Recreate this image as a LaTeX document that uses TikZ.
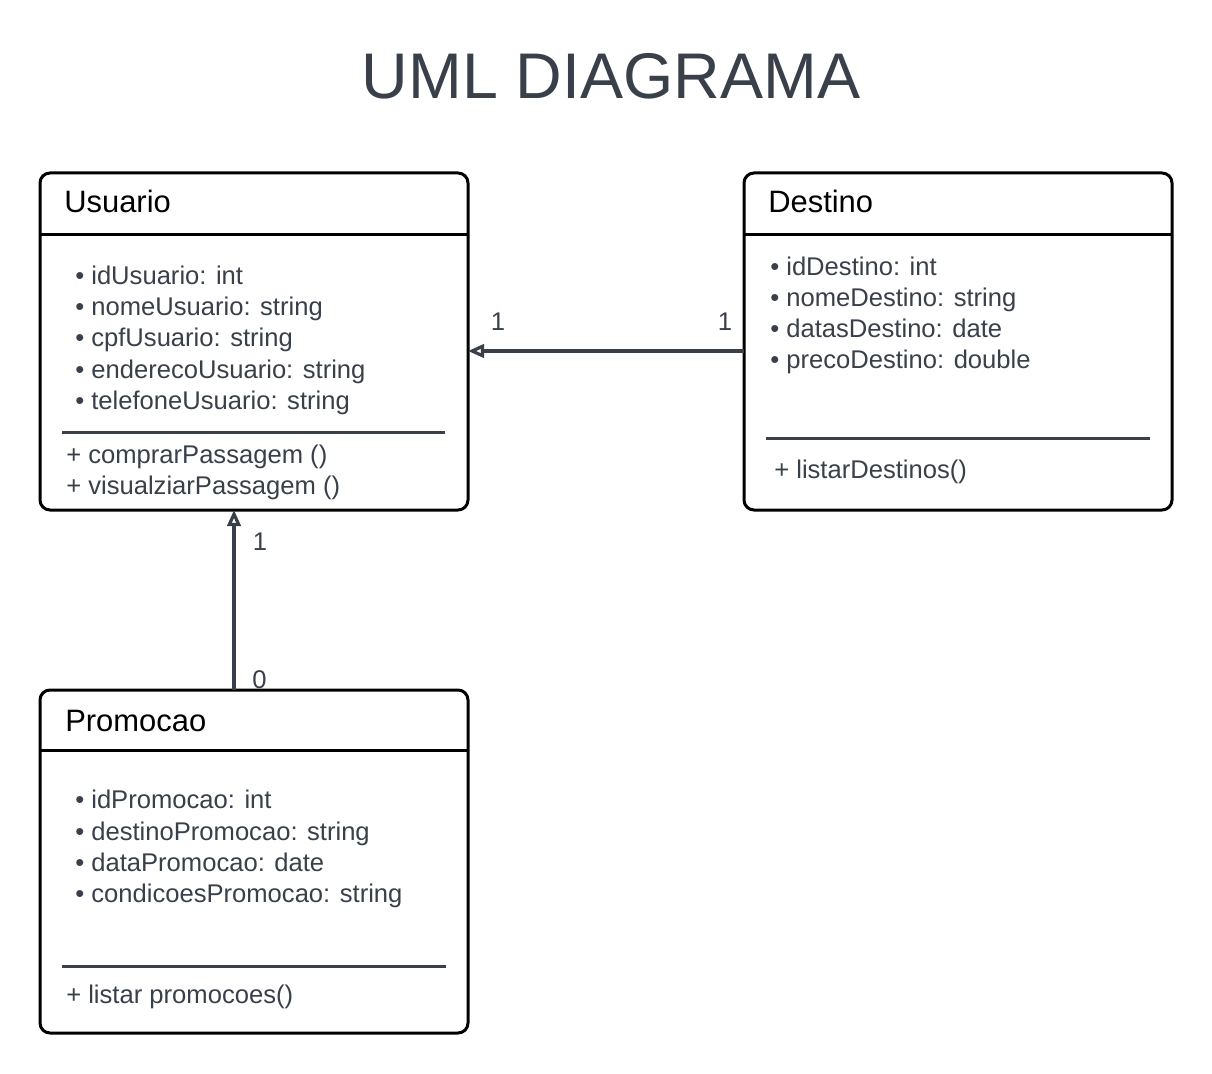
\documentclass[tikz,border=0pt]{standalone}
\usepackage{fontspec}
\setmainfont{Liberation Sans}
\usetikzlibrary{arrows.meta}
\definecolor{ink}{HTML}{3A404A}
\begin{document}
\begin{tikzpicture}[x=0.75pt,y=-0.75pt,
  classbox/.style={draw=black, line width=2.25pt, rounded corners=7.5pt, anchor=north west, inner sep=0pt, outer sep=0pt, minimum width=321pt},
  hdrline/.style={draw=black, line width=2.25pt},
  sepline/.style={draw=ink, line width=2.25pt},
  classname/.style={font=\fontsize{23.2}{28}\selectfont, text=black, anchor=base west, inner sep=0pt},
  member/.style={font=\fontsize{19.2}{23}\selectfont, text=ink, anchor=base west, inner sep=0pt},
  mult/.style={font=\fontsize{19.2}{23}\selectfont, text=ink, inner sep=0pt},
  assoc/.style={draw=ink, line width=2.4pt, -{Triangle[open, length=12pt, width=10pt]}}]
\useasboundingbox[fill=white] (0,0) rectangle (1212,1073);

% title
\node[font=\fontsize{48.4}{58}\selectfont, text=ink, inner sep=0pt] (title) at (611,76) {UML DIAGRAMA};

% class boxes
\node[classbox, minimum height=252.75pt] (usuario) at (40,173) {};
\node[classbox, minimum height=252.75pt] (destino) at (744,173) {};
\node[classbox, minimum height=257.25pt] (promocao) at (40,690) {};

% header lines
\draw[hdrline] (usuario.west |- 0,234) -- (usuario.east |- 0,234);
\draw[hdrline] (destino.west |- 0,234) -- (destino.east |- 0,234);
\draw[hdrline] (promocao.west |- 0,750.5) -- (promocao.east |- 0,750.5);

% Usuario
\node[classname] (uname) at (64,213) {Usuario};
\node[member] (u1) at (75,284) {• idUsuario: int};
\node[member] (u2) at (75,315) {• nomeUsuario: string};
\node[member] (u3) at (75,346.5) {• cpfUsuario: string};
\node[member] (u4) at (75,378) {• enderecoUsuario: string};
\node[member] (u5) at (75,409) {• telefoneUsuario: string};
\draw[sepline] (62,432) -- (445,432);
\node[member] (um1) at (66,463) {+ comprarPassagem ()};
\node[member] (um2) at (66,494) {+ visualziarPassagem ()};

% Destino
\node[classname] (dname) at (768,213) {Destino};
\node[member] (d1) at (770,275) {• idDestino: int};
\node[member] (d2) at (770,306) {• nomeDestino: string};
\node[member] (d3) at (770,337) {• datasDestino: date};
\node[member] (d4) at (770,368) {• precoDestino: double};
\draw[sepline] (766,438) -- (1150,438);
\node[member] (dm1) at (774,478) {+ listarDestinos()};

% Promocao
\node[classname] (pname) at (65,731) {Promocao};
\node[member] (p1) at (75,808.5) {• idPromocao: int};
\node[member] (p2) at (75,840) {• destinoPromocao: string};
\node[member] (p3) at (75,871) {• dataPromocao: date};
\node[member] (p4) at (75,902) {• condicoesPromocao: string};
\draw[sepline] (62,966) -- (446,966);
\node[member] (pm1) at (66,1003) {+ listar promocoes()};

% associations
\draw[assoc] (destino.west |- 0,351) -- (usuario.east |- 0,351);
\draw[assoc] (promocao.north -| 234,0) -- (usuario.south -| 234,0);

% multiplicities
\node[mult] (m1) at (498,321.5) {1};
\node[mult] (m2) at (725,321.5) {1};
\node[mult] (m3) at (260,541.5) {1};
\node[mult] (m4) at (259.5,680) {0};
\end{tikzpicture}
\end{document}
